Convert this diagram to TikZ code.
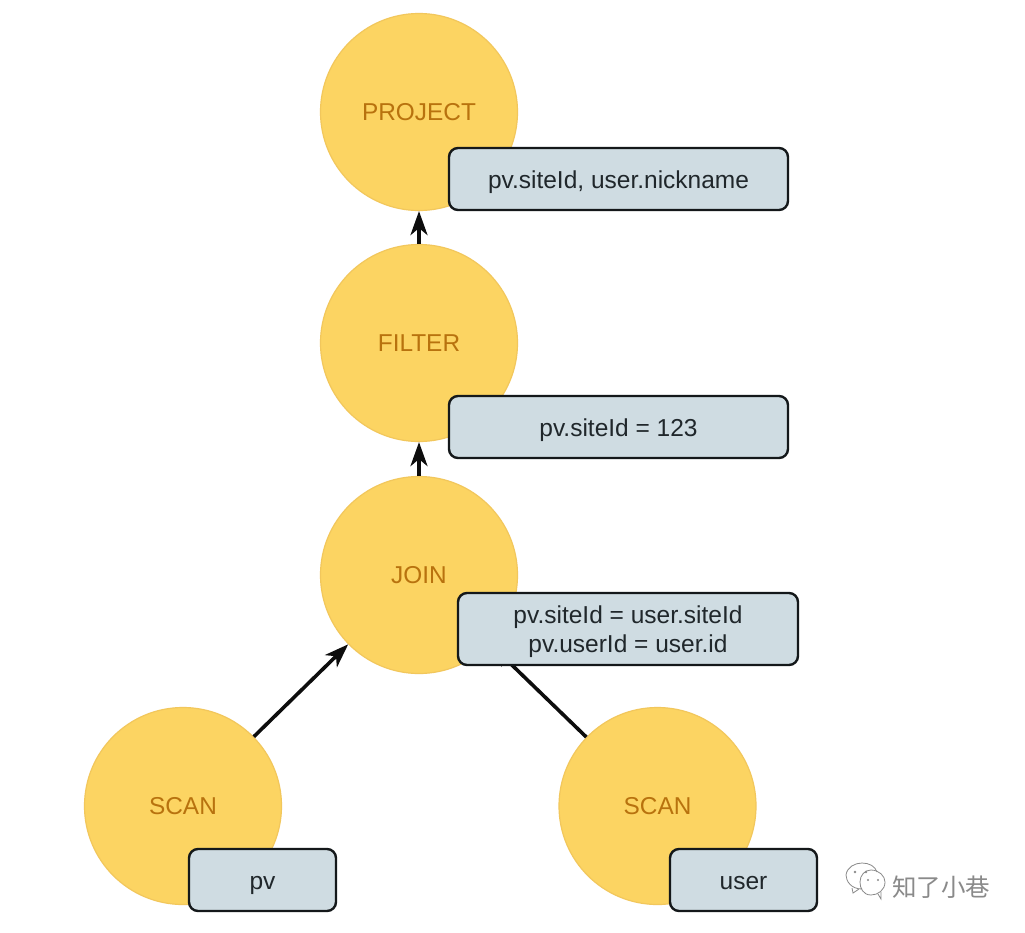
\documentclass[tikz,border=0pt]{standalone}
\usepackage{fontspec}
\setmainfont{Liberation Sans}
\newfontfamily\cjkfont{Noto Sans CJK SC}
\usetikzlibrary{arrows.meta}
\definecolor{cfill}{HTML}{FCD462}
\definecolor{cline}{HTML}{F2C75C}
\definecolor{ctext}{HTML}{B8720E}
\definecolor{bfill}{HTML}{CFDCE2}
\definecolor{bline}{HTML}{14181A}
\definecolor{btext}{HTML}{20272B}
\definecolor{wm}{HTML}{8A8A8A}
\tikzset{
  opnode/.style={circle,draw=cline,line width=1.2pt,fill=cfill,minimum size=197pt,inner sep=0pt,text=ctext,font=\fontsize{24.4}{29}\selectfont},
  infobox/.style={draw=bline,line width=2.4pt,fill=bfill,rounded corners=9pt,inner sep=0pt,text=btext,align=center,font=\fontsize{24.5}{29}\selectfont},
  oneline/.style={text height=20pt,text depth=2pt},
  flow/.style={line width=3.6pt,draw=black!95,-{Stealth[length=24pt,width=17pt,inset=7pt]},shorten >=0pt},
  wmline/.style={draw=wm,line width=0.8pt},
}
\begin{document}
\begin{tikzpicture}[x=1pt,y=-1pt]
\useasboundingbox[fill=white] (0,0) rectangle (1025,932);
\node[opnode] (project) at (419,112) {PROJECT};
\node[opnode] (filter) at (419,343) {FILTER};
\node[opnode] (join) at (419,575) {JOIN};
\node[opnode] (scanpv) at (183,806) {SCAN};
\node[opnode] (scanuser) at (657.5,806) {SCAN};
\draw[flow] (filter) -- (project);
\draw[flow] (join) -- (filter);
\draw[flow] (scanpv) -- (join);
\draw[flow] (scanuser) -- (join);
\node[infobox,oneline,minimum width=339pt,minimum height=62pt] (b1) at (618.5,179) {pv.siteId, user.nickname};
\node[infobox,oneline,minimum width=339pt,minimum height=62pt] (b2) at (618.5,427) {pv.siteId = 123};
\node[infobox,minimum width=340pt,minimum height=72pt] (b3) at (628,629) {\rule{0pt}{23pt}pv.siteId = user.siteId\\pv.userId = user.id};
\node[infobox,oneline,minimum width=147pt,minimum height=62pt] (b4) at (262.5,880) {pv};
\node[infobox,oneline,minimum width=147pt,minimum height=62pt] (b5) at (743.5,880) {user};
% watermark
\draw[wmline] (862,889) .. controls (851,889) and (846,881) .. (846,875) .. controls (847,867) and (855,863) .. (862,863) .. controls (869,863) and (875,866) .. (877,872);
\draw[wmline] (852,888) -- (853,893) -- (859,889);
\draw[wmline] (871,870) .. controls (879,870) and (885,876) .. (885,882) .. controls (885,890) and (878,895) .. (871,895) .. controls (863,895) and (860,888) .. (860,882) .. controls (860,875) and (865,870) .. (871,870);
\draw[wmline] (878,894) -- (881,899) -- (881,892);
\fill[wm] (855,872) circle (1.3pt) (866,872) circle (1.3pt) (868,880) circle (1.1pt) (878,880) circle (1.1pt);
\node[text=wm,font=\cjkfont\fontsize{24.5}{29}\selectfont,inner sep=0pt] (mark) at (941,887) {知了小巷};
\end{tikzpicture}
\end{document}
